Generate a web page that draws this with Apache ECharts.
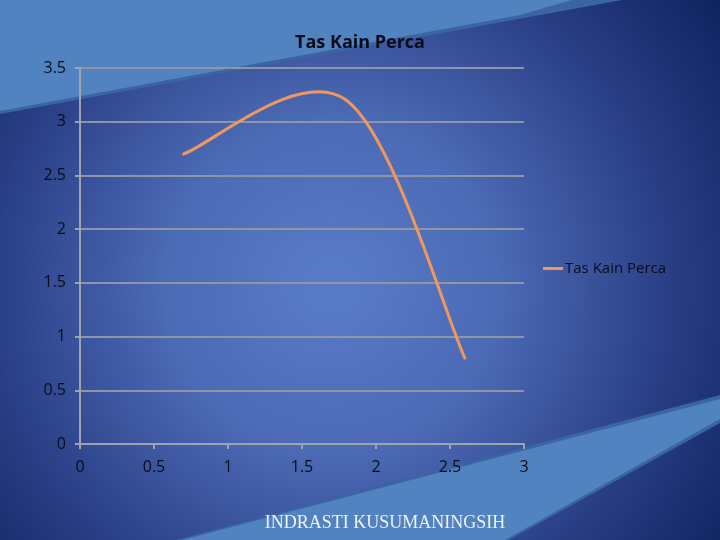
<!DOCTYPE html>
<html>
<head>
<meta charset="utf-8">
<script src="https://cdn.jsdelivr.net/npm/echarts@6/dist/echarts.min.js"></script>
<style>html,body{margin:0;padding:0;background:#1c2f6b;}#chart{width:720px;height:540px;}</style>
</head>
<body>
<div id="chart"></div>
<script>
const seriesName = 'Tas Kain Perca';
const xValues = [0.7, 1.8, 2.6];
const yValues = [2.7, 3.2, 0.8];
const xTicks = [0, 0.5, 1, 1.5, 2, 2.5, 3];
const yTicks = [0, 0.5, 1, 1.5, 2, 2.5, 3, 3.5];
const footerText = 'INDRASTI KUSUMANINGSIH';

const lineColor = '#f0985c';
const labelFont = '"Open Sans", Lato, sans-serif';

const chart = echarts.init(document.getElementById('chart'), null, {renderer: 'canvas'});

function renderCurve(params, api) {
  if (params.dataIndex !== 0) return null;
  const pts = xValues.map((x, i) => api.coord([x, yValues[i]]));
  const children = [];
  for (let i = 0; i < pts.length - 1; i++) {
    const p0 = pts[i - 1] || pts[i];
    const p1 = pts[i];
    const p2 = pts[i + 1];
    const p3 = pts[i + 2] || pts[i + 1];
    children.push({
      type: 'bezierCurve',
      shape: {
        x1: p1[0], y1: p1[1],
        cpx1: p1[0] + (p2[0] - p0[0]) / 6, cpy1: p1[1] + (p2[1] - p0[1]) / 6,
        cpx2: p2[0] - (p3[0] - p1[0]) / 6, cpy2: p2[1] - (p3[1] - p1[1]) / 6,
        x2: p2[0], y2: p2[1]
      },
      style: {stroke: lineColor, lineWidth: 3, fill: 'none', lineCap: 'round'}
    });
  }
  return {type: 'group', children: children};
}

const option = {
  animation: false,
  backgroundColor: {
    type: 'radial', x: 0.46, y: 0.53, r: 0.88,
    colorStops: [
      {offset: 0, color: '#5a7cc8'},
      {offset: 0.35, color: '#4c6ab5'},
      {offset: 0.7, color: '#2a4087'},
      {offset: 1, color: '#0f2461'}
    ]
  },
  title: {
    text: seriesName,
    left: 'center',
    top: 29,
    textStyle: {fontFamily: labelFont, fontSize: 18, fontWeight: 'bold', color: '#0a0c18'}
  },
  legend: {
    data: [{name: seriesName, icon: 'rect'}],
    orient: 'vertical',
    left: 543,
    top: 261,
    padding: 0,
    itemWidth: 20,
    itemHeight: 3,
    itemGap: 2,
    textStyle: {fontFamily: labelFont, fontSize: 15, color: '#0a0c18', padding: [0, 0, 0, -3]}
  },
  grid: {left: 80, right: 196, top: 68, bottom: 96, containLabel: false},
  xAxis: {
    type: 'value', min: 0, max: 3, interval: 0.5,
    axisLine: {show: true, lineStyle: {color: '#9ea3ad', width: 2}},
    axisTick: {show: true, length: 5, lineStyle: {color: '#9ea3ad', width: 2}},
    axisLabel: {margin: 15, fontFamily: labelFont, fontSize: 16, color: '#0a0c18',
      formatter: v => String(xTicks.find(t => Math.abs(t - v) < 1e-9) ?? v)},
    splitLine: {show: false}
  },
  yAxis: {
    type: 'value', min: 0, max: 3.5, interval: 0.5,
    axisLine: {show: true, lineStyle: {color: '#9ea3ad', width: 2}},
    axisTick: {show: true, length: 5, lineStyle: {color: '#9ea3ad', width: 2}},
    axisLabel: {margin: 14, fontFamily: labelFont, fontSize: 16, color: '#0a0c18',
      formatter: v => String(yTicks.find(t => Math.abs(t - v) < 1e-9) ?? v)},
    splitLine: {show: true, lineStyle: {color: '#8e95a6', width: 2}}
  },
  graphic: [
    {type: 'polygon', z: -10, silent: true,
      shape: {points: [[0, 0], [622, 0], [0, 114]]},
      style: {fill: '#3b64a2'}},
    {type: 'polygon', z: -9, silent: true,
      shape: {points: [[0, 0], [572, 0], [520, 15], [0, 111]]},
      style: {fill: '#5083bf'}},
    {type: 'polygon', z: -10, silent: true,
      shape: {points: [[176, 540], [720, 395], [720, 423], [509, 540]]},
      style: {fill: '#3b64a2'}},
    {type: 'polygon', z: -9, silent: true,
      shape: {points: [[182, 540], [720, 399], [720, 419], [505, 540]]},
      style: {fill: '#5083bf'}},
    {type: 'text', z: 10, silent: true,
      x: 385, y: 523,
      style: {text: footerText, fill: '#eef2fa', font: '18px "Liberation Serif", "DejaVu Serif", serif',
        textAlign: 'center', textVerticalAlign: 'middle'}}
  ],
  series: [{
    name: seriesName,
    type: 'custom',
    renderItem: renderCurve,
    itemStyle: {color: lineColor},
    encode: {x: 0, y: 1},
    data: xValues.map((x, i) => [x, yValues[i]]),
    z: 5
  }]
};

chart.setOption(option);
</script>
</body>
</html>
